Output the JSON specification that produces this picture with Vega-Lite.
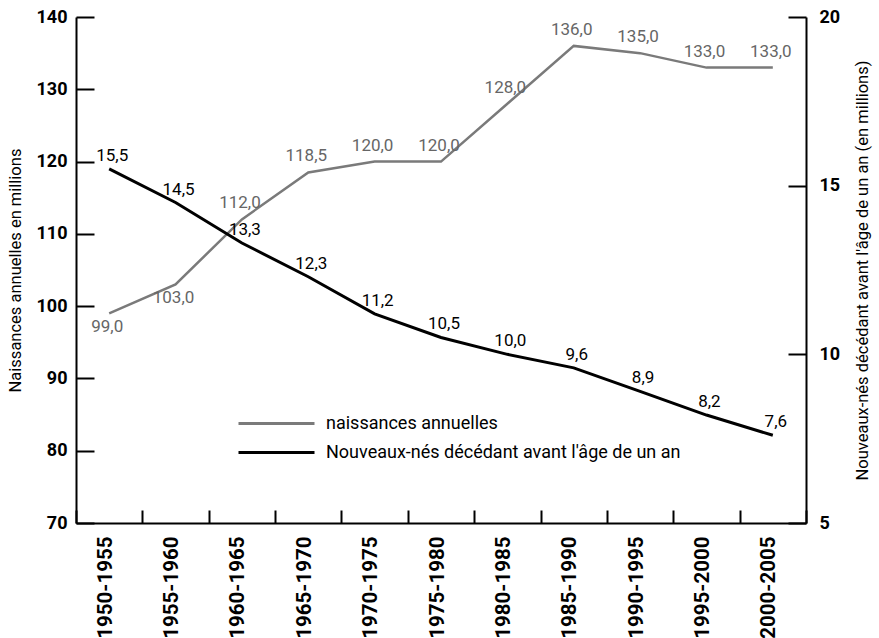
{
  "$schema": "https://vega.github.io/schema/vega-lite/v6.json",
  "width": 730,
  "height": 506,
  "autosize": "none",
  "padding": {"left": 76, "top": 17, "right": 73, "bottom": 115},
  "background": "white",
  "data": {
    "values": [
      {"periode": "1950-1955", "naissances": 99.0, "deces": 15.5},
      {"periode": "1955-1960", "naissances": 103.0, "deces": 14.5},
      {"periode": "1960-1965", "naissances": 112.0, "deces": 13.3},
      {"periode": "1965-1970", "naissances": 118.5, "deces": 12.3},
      {"periode": "1970-1975", "naissances": 120.0, "deces": 11.2},
      {"periode": "1975-1980", "naissances": 120.0, "deces": 10.5},
      {"periode": "1980-1985", "naissances": 128.0, "deces": 10.0},
      {"periode": "1985-1990", "naissances": 136.0, "deces": 9.6},
      {"periode": "1990-1995", "naissances": 135.0, "deces": 8.9},
      {"periode": "1995-2000", "naissances": 133.0, "deces": 8.2},
      {"periode": "2000-2005", "naissances": 133.0, "deces": 7.6}
    ]
  },
  "encoding": {
    "x": {
      "field": "periode",
      "type": "nominal",
      "sort": null,
      "bandPosition": 0.5,
      "scale": {"type": "band", "paddingInner": 0, "paddingOuter": 0},
      "title": null
    }
  },
  "layer": [
    {
      "encoding": {
        "y": {
          "field": "naissances",
          "type": "quantitative",
          "scale": {"domain": [70, 140], "nice": false, "zero": false},
          "axis": {
            "orient": "left",
            "title": "Naissances annuelles en millions",
            "values": [70, 80, 90, 100, 110, 120, 130, 140],
            "labelPadding": 27,
            "titlePadding": 13
          }
        }
      },
      "layer": [
        {
          "mark": {"type": "line", "strokeWidth": 2.5},
          "encoding": {
            "color": {
              "datum": "naissances annuelles",
              "type": "nominal",
              "scale": {
                "domain": ["naissances annuelles", "Nouveaux-nés décédant avant l'âge de un an"],
                "range": ["#7a7a7a", "#000000"]
              },
              "legend": {
                "orient": "none",
                "legendX": 191,
                "legendY": 397,
                "title": null,
                "padding": 0,
                "symbolType": "M-5,0H5",
                "symbolSize": 231,
                "symbolStrokeWidth": 3,
                "labelFont": "Roboto",
                "labelFontSize": 18,
                "labelColor": "#000000",
                "labelOffset": 40,
                "labelLimit": 500,
                "rowPadding": 10
              }
            }
          }
        },
        {
          "transform": [{"filter": "datum.naissances < 105"}],
          "mark": {"type": "text", "font": "Roboto", "fontSize": 17, "fill": "#666666", "baseline": "top", "align": "center", "dy": 6, "dx": -2},
          "encoding": {"text": {"field": "naissances", "type": "quantitative", "format": ".1f"}}
        },
        {
          "transform": [{"filter": "datum.naissances >= 105"}],
          "mark": {"type": "text", "font": "Roboto", "fontSize": 17, "fill": "#666666", "baseline": "bottom", "align": "center", "dy": -7, "dx": -2},
          "encoding": {"text": {"field": "naissances", "type": "quantitative", "format": ".1f"}}
        }
      ]
    },
    {
      "encoding": {
        "y": {
          "field": "deces",
          "type": "quantitative",
          "scale": {"domain": [5, 20], "nice": false, "zero": false},
          "axis": {
            "orient": "right",
            "title": "Nouveaux-nés décédant avant l'âge de un an (en millions)",
            "values": [5, 10, 15, 20],
            "labelPadding": 31,
            "titlePadding": 31,
            "titleAngle": 270
          }
        }
      },
      "layer": [
        {
          "mark": {"type": "line", "strokeWidth": 3},
          "encoding": {
            "color": {"datum": "Nouveaux-nés décédant avant l'âge de un an", "type": "nominal"}
          }
        },
        {
          "mark": {"type": "text", "font": "Roboto", "fontSize": 17, "color": "#000000", "baseline": "bottom", "align": "center", "dy": -4, "dx": 3},
          "encoding": {"text": {"field": "deces", "type": "quantitative", "format": ".1f"}}
        }
      ]
    }
  ],
  "resolve": {"scale": {"y": "independent"}},
  "config": {
    "locale": {
      "number": {"decimal": ",", "thousands": " ", "grouping": [3], "currency": ["", " €"]}
    },
    "view": {"stroke": null},
    "axis": {
      "grid": false,
      "domainColor": "#000000",
      "domainWidth": 2,
      "tickColor": "#000000",
      "tickWidth": 2,
      "labelColor": "#000000",
      "labelFont": "Roboto",
      "labelFontWeight": "bold",
      "titleFont": "Roboto",
      "titleFontWeight": "normal",
      "titleFontSize": 16.5,
      "titleColor": "#000000"
    },
    "axisX": {
      "tickBand": "extent",
      "tickSize": -13,
      "labelAngle": 270,
      "labelAlign": "right",
      "labelBaseline": "middle",
      "labelFontSize": 20.5,
      "labelPadding": 26,
      "labelOffset": -4
    },
    "axisY": {
      "tickSize": -18,
      "labelFontSize": 18
    }
  }
}
